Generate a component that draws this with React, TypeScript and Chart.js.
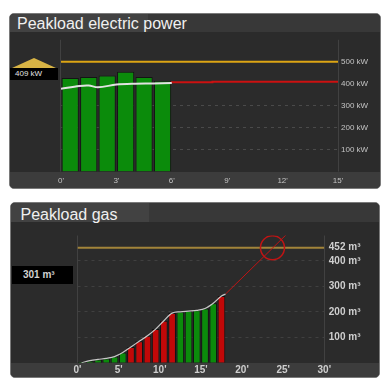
import { useEffect, useRef } from 'react';
import { Chart, registerables } from 'chart.js';

Chart.register(...registerables);

const FONT = "'Liberation Sans', Arial, sans-serif";
Chart.defaults.font.family = FONT;

// ---------- Electric power (kW) ----------
const elecTitle = 'Peakload electric power';
const elecMinutes = [0, 1, 2, 3, 4, 5];
const elecLoad = [426, 431, 437, 454, 431, 414];
const elecAvgMinutes = [0, 1, 1.5, 2, 3, 4, 5, 6];
const elecAvg = [377, 390, 392, 384, 396, 400, 401, 403];
const elecForecastMinutes = [6, 8.2, 12.7, 15];
const elecForecast = [404, 407, 409, 409];
const elecLimit = 500;
const elecYTicks = [0, 100, 200, 300, 400, 500, 600];
const elecPeakLabel = '409 kW';

// ---------- Gas (m³) ----------
const gasTitle = 'Peakload gas';
const gasMinutes = [0, 1, 2, 3, 4, 5, 6, 7, 8, 9, 10, 11, 12, 13, 14, 15, 16, 17];
const gasVolume = [3, 8, 13, 17, 24, 40, 62, 84, 106, 132, 165, 195, 200, 203, 206, 213, 234, 262];
const gasOverRate = [0, 0, 0, 0, 0, 0, 1, 1, 1, 1, 1, 1, 0, 0, 0, 0, 0, 1];
const gasTrendMinutes = [0.5, 1.5, 2.5, 3.5, 4.5, 5.5, 6.5, 7.5, 8.5, 9.5, 10.5, 11.5, 12.5, 13.5, 14.5, 15.5, 16.5, 17.5, 18];
const gasTrend = [0, 8, 13, 17, 24, 40, 62, 84, 106, 132, 165, 195, 200, 203, 206, 213, 234, 262, 270];
const gasForecastMinutes = [18, 26];
const gasForecast = [270, 523];
const gasLimit = 452;
const gasLimitReachedMinute = 23.7;
const gasYTicks = [0, 100, 200, 300, 400, 452, 500];
const gasCurrentLabel = '301 m³';

const frameLines = {
  id: 'frameLines',
  beforeDatasetsDraw(chart: any) {
    const { ctx, chartArea: a } = chart;
    ctx.save();
    ctx.strokeStyle = '#414141';
    ctx.lineWidth = 1;
    ctx.beginPath();
    const l = Math.round(a.left) - 0.5;
    const r = Math.round(a.right) + 0.5;
    ctx.moveTo(l, a.top);
    ctx.lineTo(l, a.bottom);
    ctx.moveTo(r, a.top);
    ctx.lineTo(r, a.bottom);
    ctx.stroke();
    ctx.restore();
  },
};

function elecConfig(): any {
  return {
    type: 'bar',
    data: {
      datasets: [
        {
          type: 'line',
          data: [{ x: 0, y: elecLimit }, { x: 15, y: elecLimit }],
          borderColor: '#dca514',
          borderWidth: 2,
          pointRadius: 0,
          order: 3,
        },
        {
          type: 'line',
          data: elecForecastMinutes.map((x, i) => ({ x, y: elecForecast[i] })),
          stepped: 'after',
          borderColor: '#cc1111',
          borderWidth: 2,
          pointRadius: 0,
          order: 2,
        },
        {
          type: 'line',
          data: elecAvgMinutes.map((x, i) => ({ x, y: elecAvg[i] })),
          borderColor: '#e2e2e2',
          borderWidth: 2,
          tension: 0.35,
          pointRadius: 0,
          order: 1,
        },
        {
          type: 'bar',
          data: elecMinutes.map((m, i) => ({ x: m + 0.5, y: elecLoad[i] })),
          backgroundColor: '#0b8b0b',
          borderColor: '#141414',
          borderWidth: 1,
          barPercentage: 0.93,
          categoryPercentage: 1,
          order: 10,
        },
      ],
    },
    options: {
      responsive: false,
      animation: false,
      events: [],
      layout: { padding: { left: 52, top: 0, right: 0, bottom: 0 } },
      plugins: { legend: { display: false }, tooltip: { enabled: false } },
      scales: {
        x: {
          type: 'linear',
          min: 0,
          max: 15,
          offset: false,
          grid: { display: false, drawTicks: false, offset: false },
          border: { display: false },
          ticks: {
            stepSize: 3,
            autoSkip: false,
            maxRotation: 0,
            padding: 4,
            color: '#c4c4c4',
            font: { size: 8 },
            callback: (v: any) => v + "'",
          },
          afterFit: (s: any) => {
            s.height = 16.4;
          },
        },
        y: {
          type: 'linear',
          position: 'right',
          min: 0,
          max: 600,
          grid: {
            color: (c: any) => (c.tick && c.tick.value >= 400 ? 'rgba(0,0,0,0)' : '#4a4a4a'),
            drawTicks: false,
          },
          border: { display: false, dash: [3, 4] },
          afterBuildTicks: (s: any) => {
            s.ticks = elecYTicks.map((value) => ({ value }));
          },
          ticks: {
            autoSkip: false,
            padding: 3,
            color: '#c4c4c4',
            font: { size: 8 },
            callback: (v: any) => (v > 0 && v < 600 ? v + ' kW' : null),
          },
          afterFit: (s: any) => {
            s.width = 43;
          },
        },
      },
    },
    plugins: [frameLines],
  };
}

function gasConfig(): any {
  return {
    type: 'bar',
    data: {
      datasets: [
        {
          type: 'line',
          data: [{ x: 0, y: gasLimit }, { x: 30, y: gasLimit }],
          borderColor: '#a2843a',
          borderWidth: 2,
          pointRadius: 0,
          order: 4,
        },
        {
          type: 'line',
          data: gasForecastMinutes.map((x, i) => ({ x, y: gasForecast[i] })),
          borderColor: '#c01414',
          borderWidth: 1,
          pointRadius: 0,
          order: 3,
        },
        {
          type: 'line',
          data: [{ x: gasLimitReachedMinute, y: gasLimit }],
          showLine: false,
          pointRadius: 12,
          pointBorderWidth: 1.5,
          pointBorderColor: '#c01414',
          pointBackgroundColor: 'rgba(0,0,0,0)',
          order: 2,
        },
        {
          type: 'line',
          data: gasTrendMinutes.map((x, i) => ({ x, y: gasTrend[i] })),
          borderColor: '#c8c8c8',
          borderWidth: 1.2,
          cubicInterpolationMode: 'monotone',
          pointRadius: 0,
          order: 1,
        },
        {
          type: 'bar',
          data: gasMinutes.map((m, i) => ({ x: m + 0.5, y: gasVolume[i] })),
          backgroundColor: gasOverRate.map((f) => (f ? '#c20808' : '#0b8b0b')),
          borderColor: '#111111',
          borderWidth: 1,
          barPercentage: 0.93,
          categoryPercentage: 1,
          order: 10,
        },
      ],
    },
    options: {
      responsive: false,
      animation: false,
      events: [],
      layout: { padding: { left: 67.5, top: 0, right: 0, bottom: 0 } },
      plugins: { legend: { display: false }, tooltip: { enabled: false } },
      scales: {
        x: {
          type: 'linear',
          min: 0,
          max: 30,
          offset: false,
          grid: { display: false, drawTicks: false, offset: false },
          border: { display: false },
          ticks: {
            stepSize: 5,
            autoSkip: false,
            maxRotation: 0,
            padding: 2,
            color: '#cfcfcf',
            font: { size: 10, weight: 'bold' },
            callback: (v: any) => v + "'",
          },
          afterFit: (s: any) => {
            s.height = 15.3;
          },
        },
        y: {
          type: 'linear',
          position: 'right',
          min: 0,
          max: 500,
          grid: { color: '#404040', drawTicks: false },
          border: { display: false, dash: [3, 4] },
          afterBuildTicks: (s: any) => {
            s.ticks = gasYTicks.map((value) => ({ value }));
          },
          ticks: {
            autoSkip: false,
            padding: 4.5,
            color: '#cfcfcf',
            font: { size: 10, weight: 'bold' },
            callback: (v: any) => (v > 0 && v < 500 ? v + ' m³' : null),
          },
          afterFit: (s: any) => {
            s.width = 55.7;
          },
        },
      },
    },
    plugins: [frameLines],
  };
}

function ChartCanvas(props: { left: number; top: number; width: number; height: number; build: () => any }) {
  const ref = useRef<HTMLCanvasElement>(null);
  useEffect(() => {
    const chart = new Chart(ref.current as HTMLCanvasElement, props.build());
    return () => chart.destroy();
  }, []);
  return (
    <canvas
      ref={ref}
      width={props.width}
      height={props.height}
      style={{ position: 'absolute', left: props.left, top: props.top, width: props.width, height: props.height }}
    />
  );
}

function Panel(props: { left: number; top: number; width: number; height: number; headerH: number; bandTop: number }) {
  return (
    <div
      style={{
        position: 'absolute',
        left: props.left,
        top: props.top,
        width: props.width,
        height: props.height,
        boxSizing: 'border-box',
        border: '1px solid #7a7a7a',
        borderRadius: 5,
        background: '#2b2b2b',
        overflow: 'hidden',
      }}
    >
      <div style={{ position: 'absolute', left: 0, top: 0, right: 0, height: props.headerH, background: '#383838' }} />
      <div style={{ position: 'absolute', left: 0, top: 0, width: 138, height: props.headerH, background: '#424242' }} />
      <div style={{ position: 'absolute', left: 0, top: props.bandTop, right: 0, bottom: 0, background: '#3c3c3c' }} />
    </div>
  );
}

export default function App() {
  return (
    <div style={{ position: 'absolute', left: 0, top: 0, width: 385, height: 383, background: '#ffffff', fontFamily: FONT }}>
      <Panel left={9} top={13} width={372} height={176} headerH={18} bandTop={157.6} />
      <div style={{ position: 'absolute', left: 17, top: 15.8, fontSize: 16, lineHeight: '16px', color: '#f0f0f0', whiteSpace: 'nowrap' }}>
        {elecTitle}
      </div>
      <ChartCanvas left={9} top={32} width={372} height={156} build={elecConfig} />
      <div
        style={{
          position: 'absolute',
          left: 12,
          top: 58,
          width: 0,
          height: 0,
          borderLeft: '22.5px solid transparent',
          borderRight: '22.5px solid transparent',
          borderBottom: '10px solid #d8b445',
        }}
      />
      <div
        style={{
          position: 'absolute',
          left: 10,
          top: 68,
          width: 48,
          height: 12,
          background: '#000',
          color: '#e2e2e2',
          fontSize: 8,
          lineHeight: '12px',
          paddingLeft: 5,
          boxSizing: 'border-box',
          whiteSpace: 'nowrap',
        }}
      >
        {elecPeakLabel}
      </div>

      <Panel left={10} top={202} width={370} height={176} headerH={19} bandTop={159.7} />
      <div style={{ position: 'absolute', left: 20.5, top: 206.5, fontSize: 16, lineHeight: '16px', color: '#f0f0f0', whiteSpace: 'nowrap' }}>
        {gasTitle}
      </div>
      <ChartCanvas left={10} top={222} width={370} height={156} build={gasConfig} />
      <div
        style={{
          position: 'absolute',
          left: 12,
          top: 266,
          width: 61,
          height: 18,
          background: '#000',
          color: '#d2d2d2',
          fontSize: 10,
          fontWeight: 'bold',
          lineHeight: '18px',
          paddingLeft: 11,
          boxSizing: 'border-box',
          whiteSpace: 'nowrap',
        }}
      >
        {gasCurrentLabel}
      </div>
    </div>
  );
}
